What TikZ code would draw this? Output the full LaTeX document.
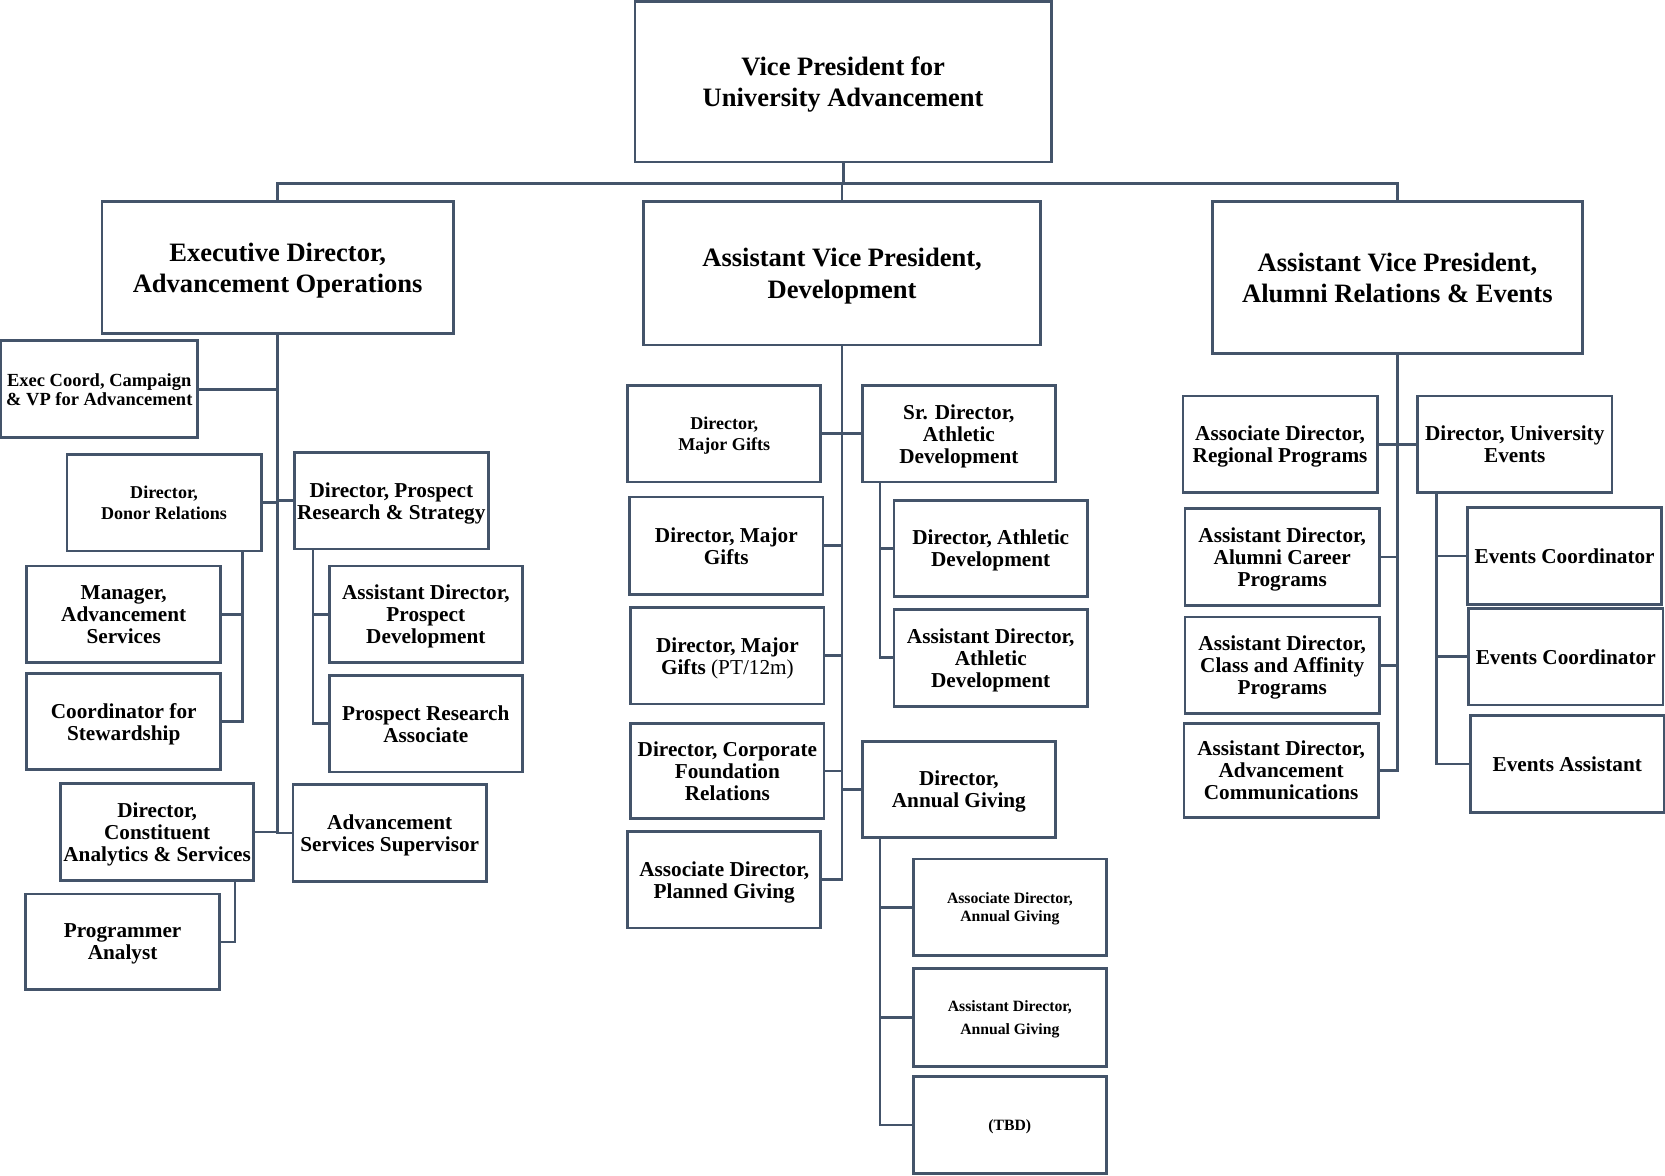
\documentclass[tikz,border=0pt]{standalone}
\usepackage{fontspec}
\setmainfont{Liberation Serif}
\usepackage{tikz}
\definecolor{linecol}{RGB}{68,84,106}

\begin{document}
\begin{tikzpicture}[x=1pt, y=-1pt,
    box/.style={rectangle, draw=linecol, line width=2.6pt, minimum width=183pt, minimum height=91pt, inner sep=1pt, align=center, text depth=-1.5pt, font=\bfseries\fontsize{20}{20.7}\selectfont},
    head/.style={box, text depth=-2.5pt, font=\bfseries\fontsize{25}{29.5}\selectfont},
    smallbox/.style={box, text depth=0pt, font=\bfseries\fontsize{17}{20.5}\selectfont},
    tinybox/.style={box, text depth=0pt, font=\bfseries\fontsize{14.8}{17}\selectfont},
    link/.style={draw=linecol, line width=2.6pt}
]
\useasboundingbox (0,0) rectangle (1568,1107);

\node[head, minimum width=392pt, minimum height=151pt] (vp) at (794,77) {Vice President for\\University Advancement};

\node[head, minimum width=331pt, minimum height=124pt] (exec) at (261.5,252) {Executive Director,\\Advancement Operations};
\node[head, minimum width=374pt, minimum height=135pt] (dev) at (793,257.5) {Assistant Vice President,\\Development};
\node[head, minimum width=348pt, minimum height=143pt] (alum) at (1316,261.5) {Assistant Vice President,\\Alumni Relations \& Events};

% advancement operations
\node[box, minimum width=185pt, text depth=0pt, font=\bfseries\fontsize{17.4}{18}\selectfont] (execcoord) at (93.5,366.5) {Exec Coord, Campaign\\\& VP for Advancement};
\node[smallbox] (donor) at (154.5,473.5) {Director,\\Donor Relations};
\node[box] (prospect) at (368.5,471.5) {Director, Prospect\\Research \& Strategy};
\node[box] (manager) at (116.5,578.5) {Manager,\\Advancement\\Services};
\node[box] (steward) at (116.5,679.5) {Coordinator for\\Stewardship};
\node[box, minimum width=182pt] (apd) at (401,578.5) {Assistant Director,\\Prospect\\Development};
\node[box, minimum width=182pt] (pra) at (401,681.5) {Prospect Research\\Associate};
\node[box, minimum width=182pt] (constit) at (148,783.5) {Director,\\Constituent\\Analytics \& Services};
\node[box, minimum width=182pt] (advsup) at (367,784.5) {Advancement\\Services Supervisor};
\node[box, minimum height=90pt] (progan) at (115.5,887) {Programmer\\Analyst};

% development
\node[smallbox, minimum width=182pt] (mg1) at (682,408.5) {Director,\\Major Gifts};
\node[box, minimum width=182pt] (srath) at (903,408.5) {Sr. Director,\\Athletic\\Development};
\node[box, minimum width=182pt, minimum height=92pt] (mg2) at (684,514) {Director, Major\\Gifts};
\node[box, minimum width=182pt] (dirath) at (933,516.5) {Director, Athletic\\Development};
\node[box, minimum width=182pt] (mg3) at (685,617.5) {Director, Major\\Gifts {\mdseries(PT/12m)}};
\node[box, minimum width=182pt] (asstath) at (933,619.5) {Assistant Director,\\Athletic\\Development};
\node[box, minimum width=182pt, minimum height=90pt] (corp) at (685,726) {Director, Corporate\\Foundation\\Relations};
\node[box, minimum width=182pt] (annual) at (903,743.5) {Director,\\Annual Giving};
\node[box, minimum width=182pt] (planned) at (682,828.5) {Associate Director,\\Planned Giving};
\node[tinybox, minimum width=182pt] (assocag) at (951,854.5) {Associate Director,\\Annual Giving};
\node[tinybox, minimum width=182pt, minimum height=92pt, font=\bfseries\fontsize{14.8}{22}\selectfont] (asstag) at (951,958) {Assistant Director,\\Annual Giving};
\node[tinybox, minimum width=182pt, text depth=-2pt] (tbd) at (951,1059.5) {(TBD)};

% alumni relations and events
\node[box] (regional) at (1205.5,418.5) {Associate Director,\\Regional Programs};
\node[box] (univev) at (1426.5,418.5) {Director, University\\Events};
\node[box] (career) at (1207.5,524.5) {Assistant Director,\\Alumni Career\\Programs};
\node[box, text depth=0pt] (evc1) at (1473.5,523.5) {Events Coordinator};
\node[box] (classaff) at (1207.5,626.5) {Assistant Director,\\Class and Affinity\\Programs};
\node[box, text depth=0pt] (evc2) at (1474.5,618.5) {Events Coordinator};
\node[box, minimum height=89pt] (advcomm) at (1206.5,725.5) {Assistant Director,\\Advancement\\Communications};
\node[box, minimum width=182pt, text depth=0pt] (evasst) at (1476,719.5) {Events Assistant};

\draw[link] (vp.south) -- ++(0,19) -| (exec.north);
\draw[link] (vp.south) -- ++(0,19) -| (dev.north);
\draw[link] (vp.south) -- ++(0,19) -| (alum.north);

\draw[link] (exec.south) |- (execcoord.east);
\draw[link] (exec.south) |- (donor.east);
\draw[link] (exec.south) |- (prospect.west);
\draw[link] (exec.south) |- (constit.east);
\draw[link] (exec.south) |- (advsup.west);
\draw[link] ([xshift=-19pt]donor.south east) |- (manager.east);
\draw[link] ([xshift=-19pt]donor.south east) |- (steward.east);
\draw[link] ([xshift=19pt]prospect.south west) |- (apd.west);
\draw[link] ([xshift=19pt]prospect.south west) |- (pra.west);
\draw[link] ([xshift=-19pt]constit.south east) |- (progan.east);

\draw[link] (dev.south) |- (mg1.east);
\draw[link] (dev.south) |- (srath.west);
\draw[link] (dev.south) |- (mg2.east);
\draw[link] (dev.south) |- (mg3.east);
\draw[link] (dev.south) |- (corp.east);
\draw[link] (dev.south) |- (annual.west);
\draw[link] (dev.south) |- (planned.east);
\draw[link] ([xshift=18pt]srath.south west) |- (dirath.west);
\draw[link] ([xshift=18pt]srath.south west) |- (asstath.west);
\draw[link] ([xshift=18pt]annual.south west) |- (assocag.west);
\draw[link] ([xshift=18pt]annual.south west) |- (asstag.west);
\draw[link] ([xshift=18pt]annual.south west) |- (tbd.west);

\draw[link] (alum.south) |- (regional.east);
\draw[link] (alum.south) |- (univev.west);
\draw[link] (alum.south) |- (career.east);
\draw[link] (alum.south) |- (classaff.east);
\draw[link] (alum.south) |- (advcomm.east);
\draw[link] ([xshift=19pt]univev.south west) |- (evc1.west);
\draw[link] ([xshift=19pt]univev.south west) |- (evc2.west);
\draw[link] ([xshift=19pt]univev.south west) |- (evasst.west);

\end{tikzpicture}
\end{document}
